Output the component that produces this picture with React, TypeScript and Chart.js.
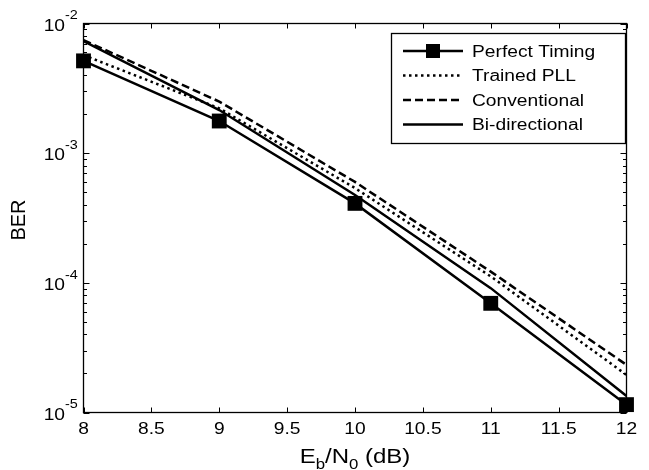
import React, { useEffect, useRef } from "react";
import { Chart, registerables } from "chart.js";

Chart.register(...registerables);

// ---- data ----
const ebn0 = [8, 9, 10, 11, 12];
const perfectTiming = [5.15e-3, 1.77e-3, 4.1e-4, 6.95e-5, 1.15e-5];
const trainedPLL = [5.7e-3, 2.22e-3, 5.38e-4, 1.12e-4, 1.95e-5];
const conventional = [7.45e-3, 2.5e-3, 6.0e-4, 1.22e-4, 2.33e-5];
const biDirectional = [7.33e-3, 2.15e-3, 4.76e-4, 9.1e-5, 1.34e-5];

const seriesNames = ["Perfect Timing", "Trained PLL", "Conventional", "Bi-directional"];

const xTicks = [8, 8.5, 9, 9.5, 10, 10.5, 11, 11.5, 12];
const xTickLabels = ["8", "8.5", "9", "9.5", "10", "10.5", "11", "11.5", "12"];
const yTicks = [1e-5, 1e-4, 1e-3, 1e-2];
const yTickExponents = ["-5", "-4", "-3", "-2"];

const FONT = '"Liberation Sans", Arial, Helvetica, sans-serif';
const SX = 1.2; // horizontal stretch of the reference picture

function stretchText(
  ctx: CanvasRenderingContext2D,
  text: string,
  x: number,
  y: number,
  align: "left" | "center" | "right"
): number {
  const w = ctx.measureText(text).width * SX;
  const x0 = align === "center" ? x - w / 2 : align === "right" ? x - w : x;
  ctx.save();
  ctx.translate(x0, y);
  ctx.scale(SX, 1);
  ctx.textAlign = "left";
  ctx.fillText(text, 0, 0);
  ctx.restore();
  return w;
}

const matlabAxes = {
  id: "matlabAxes",
  afterDraw(chart: any) {
    const ctx: CanvasRenderingContext2D = chart.ctx;
    const { left, right, top, bottom } = chart.chartArea;
    const xs = chart.scales.x;
    const ys = chart.scales.y;
    ctx.save();
    ctx.strokeStyle = "#000";
    ctx.fillStyle = "#000";
    ctx.lineWidth = 1.3;
    ctx.setLineDash([]);

    // frame
    ctx.strokeRect(left, top, right - left, bottom - top);

    // x ticks
    ctx.lineWidth = 1;
    ctx.beginPath();
    xTicks.forEach((v) => {
      const px = Math.round(xs.getPixelForValue(v)) + 0.5;
      ctx.moveTo(px, bottom);
      ctx.lineTo(px, bottom - 5);
      ctx.moveTo(px, top);
      ctx.lineTo(px, top + 5);
    });
    // y ticks (major + minor)
    for (let e = -5; e <= -2; e++) {
      for (let m = 1; m <= 9; m++) {
        const v = m * Math.pow(10, e);
        if (v > 1e-2 * 1.0001) continue;
        const py = Math.round(ys.getPixelForValue(v)) + 0.5;
        const len = m === 1 ? 6 : 3.5;
        ctx.moveTo(left, py);
        ctx.lineTo(left + len, py);
        ctx.moveTo(right, py);
        ctx.lineTo(right - len, py);
      }
    }
    ctx.stroke();

    // x tick labels
    ctx.textBaseline = "alphabetic";
    ctx.font = `16px ${FONT}`;
    xTicks.forEach((v, i) => {
      stretchText(ctx, xTickLabels[i], xs.getPixelForValue(v), bottom + 21.7, "center");
    });

    // y tick labels 10^n
    yTicks.forEach((v, i) => {
      const py = ys.getPixelForValue(v);
      ctx.font = `16px ${FONT}`;
      stretchText(ctx, "10", 65, py + 7.2, "right");
      ctx.font = `12px ${FONT}`;
      stretchText(ctx, yTickExponents[i], 65, py - 4.2, "left");
    });

    // x title E_b/N_0 (dB)
    const parts: [string, number, number][] = [
      ["E", 20, 0],
      ["b", 14, 6],
      ["/N", 20, 0],
      ["0", 14, 6],
      [" (dB)", 20, 0],
    ];
    let total = 0;
    parts.forEach(([t, f]) => {
      ctx.font = `${f}px ${FONT}`;
      total += ctx.measureText(t).width * SX;
    });
    let cx = (left + right) / 2 - total / 2;
    const base = 463;
    parts.forEach(([t, f, dy]) => {
      ctx.font = `${f}px ${FONT}`;
      cx += stretchText(ctx, t, cx, base + dy, "left");
    });

    // y title
    ctx.save();
    ctx.translate(19.5, 220);
    ctx.rotate(-Math.PI / 2);
    ctx.font = `20px ${FONT}`;
    ctx.textAlign = "center";
    ctx.textBaseline = "middle";
    ctx.fillText("BER", 0, 0);
    ctx.restore();

    // legend
    const bx = 391.5, by = 33.5, bw = 234, bh = 110;
    ctx.fillStyle = "#fff";
    ctx.fillRect(bx, by, bw, bh);
    ctx.fillStyle = "#000";
    ctx.lineWidth = 1.3;
    ctx.strokeRect(bx, by, bw, bh);
    const rows = [51, 75.5, 100, 124.5];
    chart.data.datasets.forEach((ds: any, i: number) => {
      const y = rows[i];
      ctx.save();
      ctx.lineWidth = ds.borderWidth;
      ctx.lineCap = "butt";
      ctx.setLineDash(ds.borderDash || []);
      ctx.beginPath();
      ctx.moveTo(403, y);
      ctx.lineTo(463, y);
      ctx.stroke();
      ctx.restore();
      if (ds.pointRadius > 0) {
        const s = 7;
        ctx.fillRect(433 - s, y - s, 2 * s, 2 * s);
      }
      ctx.font = `16px ${FONT}`;
      ctx.textBaseline = "alphabetic";
      stretchText(ctx, ds.label, 472, y + 5.7, "left");
    });

    ctx.restore();
  },
};

export default function App() {
  const ref = useRef<HTMLCanvasElement | null>(null);

  useEffect(() => {
    if (!ref.current) return;
    const mk = (vals: number[]) => ebn0.map((x, i) => ({ x, y: vals[i] }));
    const chart = new Chart(ref.current, {
      type: "line",
      data: {
        datasets: [
          {
            label: seriesNames[0],
            data: mk(perfectTiming),
            borderColor: "#000",
            backgroundColor: "#000",
            borderWidth: 2.5,
            pointStyle: "rect",
            pointRadius: 10.5,
            pointBorderWidth: 0,
            pointBackgroundColor: "#000",
            clip: false,
          } as any,
          {
            label: seriesNames[1],
            data: mk(trainedPLL),
            borderColor: "#000",
            borderWidth: 2.5,
            borderDash: [2.5, 3.5],
            pointRadius: 0,
          },
          {
            label: seriesNames[2],
            data: mk(conventional),
            borderColor: "#000",
            borderWidth: 2.5,
            borderDash: [8, 4],
            pointRadius: 0,
          },
          {
            label: seriesNames[3],
            data: mk(biDirectional),
            borderColor: "#000",
            borderWidth: 2.5,
            pointRadius: 0,
          },
        ],
      },
      options: {
        animation: false,
        responsive: false,
        devicePixelRatio: 1,
        layout: { padding: { left: 83.5, right: 22.5, top: 23.5, bottom: 57.5 } },
        elements: { line: { tension: 0, borderCapStyle: "butt" } },
        scales: {
          x: { type: "linear", min: 8, max: 12, display: false },
          y: { type: "logarithmic", min: 1e-5, max: 1e-2, display: false },
        },
        plugins: {
          legend: { display: false },
          tooltip: { enabled: false },
        },
        events: [],
      },
      plugins: [matlabAxes],
    });
    return () => chart.destroy();
  }, []);

  return (
    <div style={{ position: "fixed", left: 0, top: 0, width: 649, height: 470, background: "#fff" }}>
      <canvas ref={ref} width={649} height={470} style={{ display: "block" }} />
    </div>
  );
}
